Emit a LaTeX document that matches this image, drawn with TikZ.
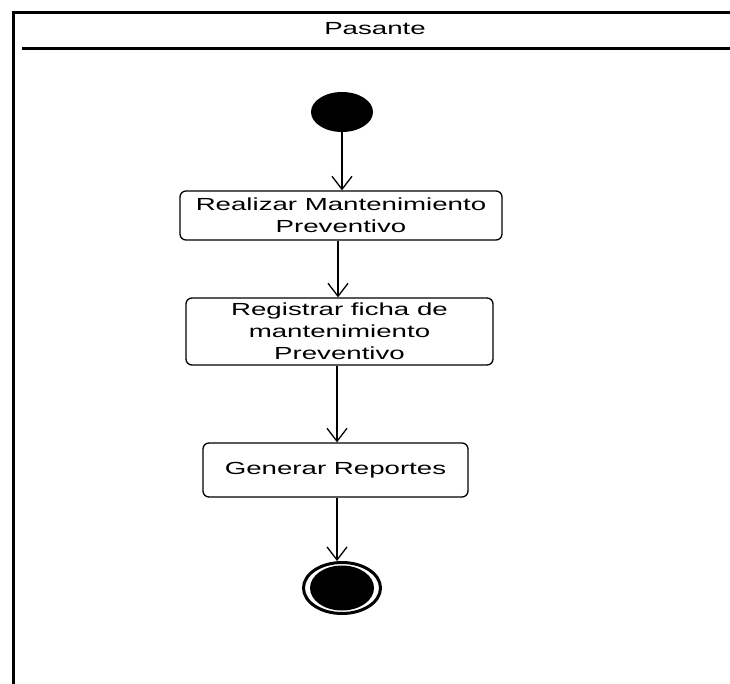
\documentclass[tikz,border=0pt]{standalone}
\usepackage{fontspec}
\setmainfont{Liberation Sans}[FakeStretch=1.58]
\usetikzlibrary{arrows.meta,shapes.geometric}
\begin{document}
\begin{tikzpicture}[x=1pt,y=-1pt,
  act/.style={draw, line width=1.3pt, rounded corners=6pt, inner sep=0pt, align=center,
    font=\fontsize{17.5}{22}\selectfont},
  arr/.style={line width=1.3pt, -{Straight Barb[length=13pt,width=20pt]}},
  frameline/.style={line width=3pt},
]
\useasboundingbox (0,0) rectangle (730,684);
% swimlane frame
\draw[frameline] (730,13) -- (13,13) -- (13,684);
\draw[line width=2.5pt] (22,48.5) -- (730,48.5);
\node[font=\fontsize{17.5}{22}\selectfont] (title) at (375,29) {Pasante};
% start
\node[ellipse, fill=black, minimum width=62pt, minimum height=40pt, inner sep=0pt] (start) at (342,112) {};
% activities
\node[act, minimum width=322pt, minimum height=49pt] (a1) at (341,215.5) {Realizar Mantenimiento\\Preventivo};
\node[act, minimum width=307pt, minimum height=67pt] (a2) at (339.5,331.5) {Registrar ficha de\\mantenimiento\\Preventivo};
\node[act, minimum width=265pt, minimum height=54pt] (a3) at (335.5,470) {Generar Reportes};
% end
\node[ellipse, draw=black, line width=3pt, minimum width=77pt, minimum height=51pt, inner sep=0pt] (end) at (342,588) {};
\node[ellipse, fill=black, minimum width=64pt, minimum height=45pt, inner sep=0pt] (endin) at (end.center) {};
% connectors
\draw[arr] (start.south) -- (start.south |- a1.north);
\draw[arr] (a1.south -| 338,0) -- (a2.north -| 338,0);
\draw[arr] (a2.south -| 337,0) -- (a3.north -| 337,0);
\draw[arr] (a3.south -| 337,0) -- (end.north -| 337,0);
\end{tikzpicture}
\end{document}
